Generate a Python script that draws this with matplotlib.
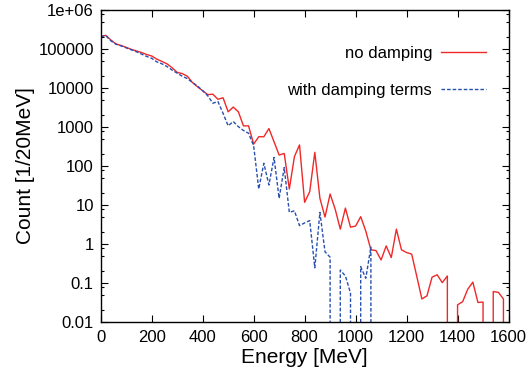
#!/usr/bin/env python3
"""Energy spectrum: with and without damping terms (log scale, 20 MeV bins)."""

import numpy as np
import matplotlib
matplotlib.use("Agg")
import matplotlib.pyplot as plt
import matplotlib.ticker as ticker

plt.rcParams["font.family"] = ["Liberation Sans", "DejaVu Sans"]

# ---------------------------------------------------------------------------
# Data (counts per 20 MeV bin; 0 = empty bin)
# ---------------------------------------------------------------------------
energy = np.arange(0, 1601, 20)

no_damping = [
    209000, 224000, 170000, 135000, 123000, 110000, 97700, 89100, 81300, 72400,
    66100, 55000, 47900, 41700, 33100, 25100, 23400, 20000, 13800, 10700,
    8510, 6760, 6920, 5130, 5620, 2450, 3240, 2450, 1070, 1070,
    363, 562, 562, 912, 417, 191, 209, 25.7, 174, 347,
    11.7, 21.9, 224, 14.8, 4.9, 19.1, 7.76, 2.40, 8.32, 2.69,
    2.88, 5.01, 2.14, 0.708, 0.676, 0.389, 0.891, 0.447, 2.40, 0.708,
    0.603, 0.550, 0.148, 0.0389, 0.0468, 0.141, 0.162, 0.102, 0.151, 0,
    0.0275, 0.0331, 0.0692, 0.105, 0.0316, 0.0324, 0, 0.0603, 0.0575, 0.0389,
    0,
]

with_damping = [
    209000, 219000, 162000, 132000, 120000, 107000, 95500, 85100, 74100, 64600,
    57500, 46800, 41700, 35500, 28800, 24000, 20000, 17400, 13800, 11200,
    8510, 6310, 4070, 4470, 2240, 1070, 1380, 1020, 813, 692,
    331, 25.7, 117, 32.4, 166, 14.8, 91.2, 6.46, 7.08, 2.95,
    3.47, 3.98, 0.245, 6.46, 0.631, 0.457, 0, 0.214, 0.151, 0.0550,
    0, 0.263, 0.132, 0.832,
] + [0] * 27

ytick_vals = [0.01, 0.1, 1, 10, 100, 1000, 10000, 100000, 1e6]
ytick_labels = ["0.01", "0.1", "1", "10", "100", "1000", "10000", "100000", "1e+06"]
xtick_vals = list(range(0, 1601, 200))

# ---------------------------------------------------------------------------
# Plot
# ---------------------------------------------------------------------------
fig = plt.figure(figsize=(5.30, 3.77), dpi=100)
ax = fig.add_axes([0.190, 0.146, 0.7695, 0.8275])

ax.plot(energy, no_damping, color="#f02828", lw=1.0, label="no damping")
ax.plot(energy, with_damping, color="#2850b0", lw=1.0, dashes=(2.6, 1.4),
        label="with damping terms")

ax.set_yscale("log", nonpositive="clip")
ax.set_xlim(0, 1600)
ax.set_ylim(0.01, 1e6)

ax.yaxis.set_major_locator(ticker.FixedLocator(ytick_vals))
ax.yaxis.set_major_formatter(ticker.FixedFormatter(ytick_labels))
ax.yaxis.set_minor_locator(ticker.LogLocator(base=10, subs=(2, 5, 8)))
ax.yaxis.set_minor_formatter(ticker.NullFormatter())
ax.xaxis.set_major_locator(ticker.FixedLocator(xtick_vals))
ax.xaxis.set_minor_locator(ticker.NullLocator())

ax.tick_params(which="both", direction="in", top=True, right=True,
               labelsize=12, colors="black")
ax.tick_params(which="major", length=5, width=0.8, pad=5)
ax.tick_params(axis="x", which="major", pad=6)
ax.tick_params(which="minor", length=2.5, width=0.8)
for s in ax.spines.values():
    s.set_linewidth(1.0)

ax.set_xlabel("Energy [MeV]", fontsize=15, labelpad=2)
ax.set_ylabel("Count [1/20MeV]", fontsize=15, labelpad=2)

ax.legend(loc="upper right", bbox_to_anchor=(0.962, 0.905), frameon=False,
          markerfirst=False, fontsize=12, handlelength=2.7,
          handletextpad=0.55, labelspacing=1.32, borderaxespad=0)

fig.savefig("out.png", dpi=100)
